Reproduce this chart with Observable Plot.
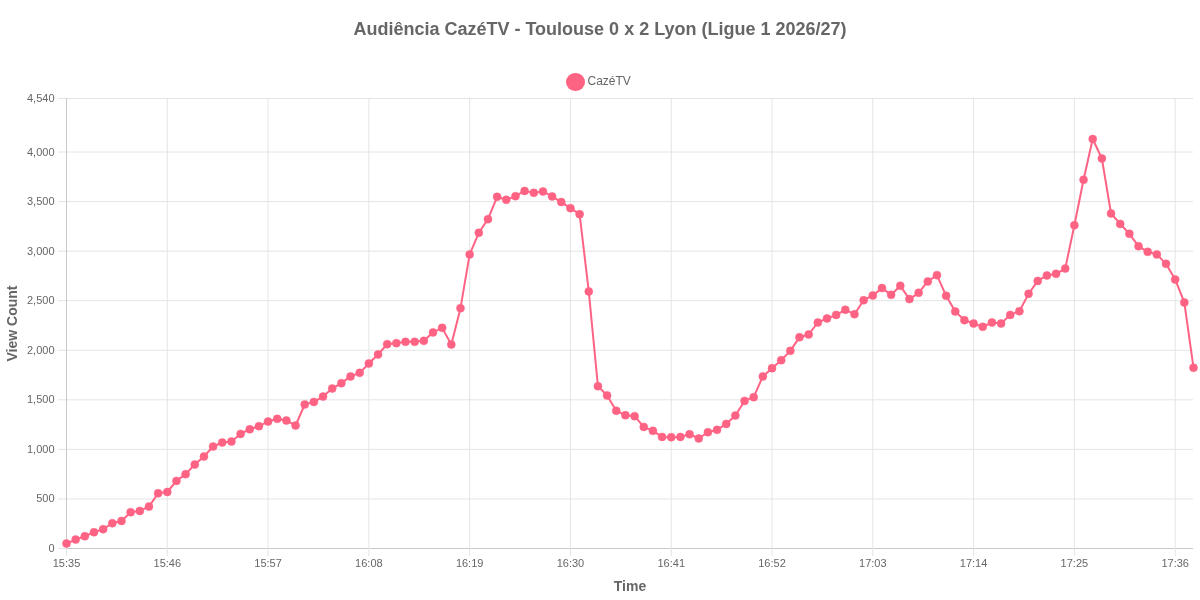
<!DOCTYPE html>
<html>
<head>
<meta charset="utf-8">
<script src="https://cdn.jsdelivr.net/npm/d3@7"></script>
<script src="https://cdn.jsdelivr.net/npm/@observablehq/plot@0.6"></script>
<style>
html,body{margin:0;padding:0;background:#fff;font-family:"Liberation Sans",Arial,sans-serif;}
#wrap{position:relative;width:1200px;height:600px;overflow:hidden;opacity:0.999;will-change:opacity;}
#title{position:absolute;left:0;top:19px;width:1200px;text-align:center;font-size:18px;line-height:21px;font-weight:bold;color:#666;}
#legend{position:absolute;z-index:2;top:73px;left:566px;height:18px;display:flex;align-items:center;font-size:12px;color:#666;}
#legend i{display:block;width:18.5px;height:18.5px;border-radius:50%;background:#ff6384;margin-right:3px;}
#legend span{position:relative;top:-1px;}
#chart{position:absolute;left:0;top:90px;}
#chart svg{display:block;}
</style>
</head>
<body>
<div id="wrap">
<div id="title">Audiência CazéTV - Toulouse 0 x 2 Lyon (Ligue 1 2026/27)</div>
<div id="legend"><i></i><span>CazéTV</span></div>
<div id="chart"></div>
</div>
<script>
const startMinute = 15 * 60 + 35;
const viewCounts = [
  50,90,124,164,195,255,278,366,379,423,558,570,682,750,847,928,1029,1069,1079,1156,
  1203,1234,1281,1308,1291,1241,1453,1479,1533,1614,1668,1736,1772,1867,1958,2061,2072,2085,2085,2095,
  2180,2226,2058,2425,2967,3185,3323,3548,3518,3555,3608,3588,3602,3552,3495,3434,3373,2593,1638,1544,
  1389,1345,1335,1227,1187,1126,1123,1126,1153,1110,1173,1197,1257,1342,1489,1527,1736,1819,1900,1994,
  2132,2159,2280,2321,2357,2408,2364,2505,2553,2627,2559,2650,2516,2579,2694,2758,2549,2391,2304,2270,
  2236,2280,2270,2357,2394,2569,2700,2755,2771,2824,3262,3720,4131,3935,3380,3275,3175,3050,2993,2967,
  2872,2714,2482,1824
];
const yTicks = [0,500,1000,1500,2000,2500,3000,3500,4000,4540];
const xTicks = ["15:35","15:46","15:57","16:08","16:19","16:30","16:41","16:52","17:03","17:14","17:25","17:36"];

const pad = n => String(n).padStart(2, "0");
const times = viewCounts.map((_, i) => {
  const m = startMinute + i;
  return pad(Math.floor(m / 60)) + ":" + pad(m % 60);
});
const rows = times.map((t, i) => ({time: t, views: viewCounts[i]}));

const grid = "#e4e4e4", axisLine = "#c9c9c9", ink = "#666", pink = "#ff6384";

const plot = Plot.plot({
  width: 1200,
  height: 510,
  marginTop: 8,
  marginBottom: 52,
  marginLeft: 66,
  marginRight: 7,
  style: {fontFamily: '"Liberation Sans",Arial,sans-serif', background: "transparent", overflow: "visible"},
  x: {type: "point", domain: times, padding: 0, round: false, label: null},
  y: {type: "linear", domain: [0, 4540], label: null},
  marks: [
    Plot.ruleY(yTicks.filter(d => d > 0), {y: d => d, stroke: grid, strokeWidth: 1, strokeOpacity: 1}),
    Plot.ruleX(xTicks.slice(1), {x: d => d, stroke: grid, strokeWidth: 1, strokeOpacity: 1}),
    Plot.ruleX([times[0]], {x: d => d, stroke: axisLine, strokeWidth: 1}),
    Plot.ruleY([0], {stroke: axisLine, strokeWidth: 1}),
    Plot.axisY({ticks: yTicks, tickFormat: d => d3.format(",")(d), tickSize: 8, tickPadding: 4, stroke: grid, fill: ink, fontSize: 11, label: null, strokeOpacity: 1}),
    Plot.axisX({ticks: xTicks, tickSize: 8, tickPadding: 3, stroke: grid, fill: ink, fontSize: 11, label: null, strokeOpacity: 1}),
    Plot.line(rows, {x: "time", y: "views", stroke: pink, strokeWidth: 2}),
    Plot.dot(rows, {x: "time", y: "views", r: 4, fill: pink, stroke: pink, strokeWidth: 0.5}),
    Plot.text(["Time"], {frameAnchor: "bottom", dy: 38, text: d => d, fill: ink, fontSize: 14, fontWeight: "bold", lineAnchor: "middle"}),
    Plot.text(["View Count"], {frameAnchor: "left", dx: -54, rotate: -90, text: d => d, fill: ink, fontSize: 14, fontWeight: "bold", lineAnchor: "middle", textAnchor: "middle"})
  ]
});
document.getElementById("chart").appendChild(plot);
</script>
</body>
</html>
